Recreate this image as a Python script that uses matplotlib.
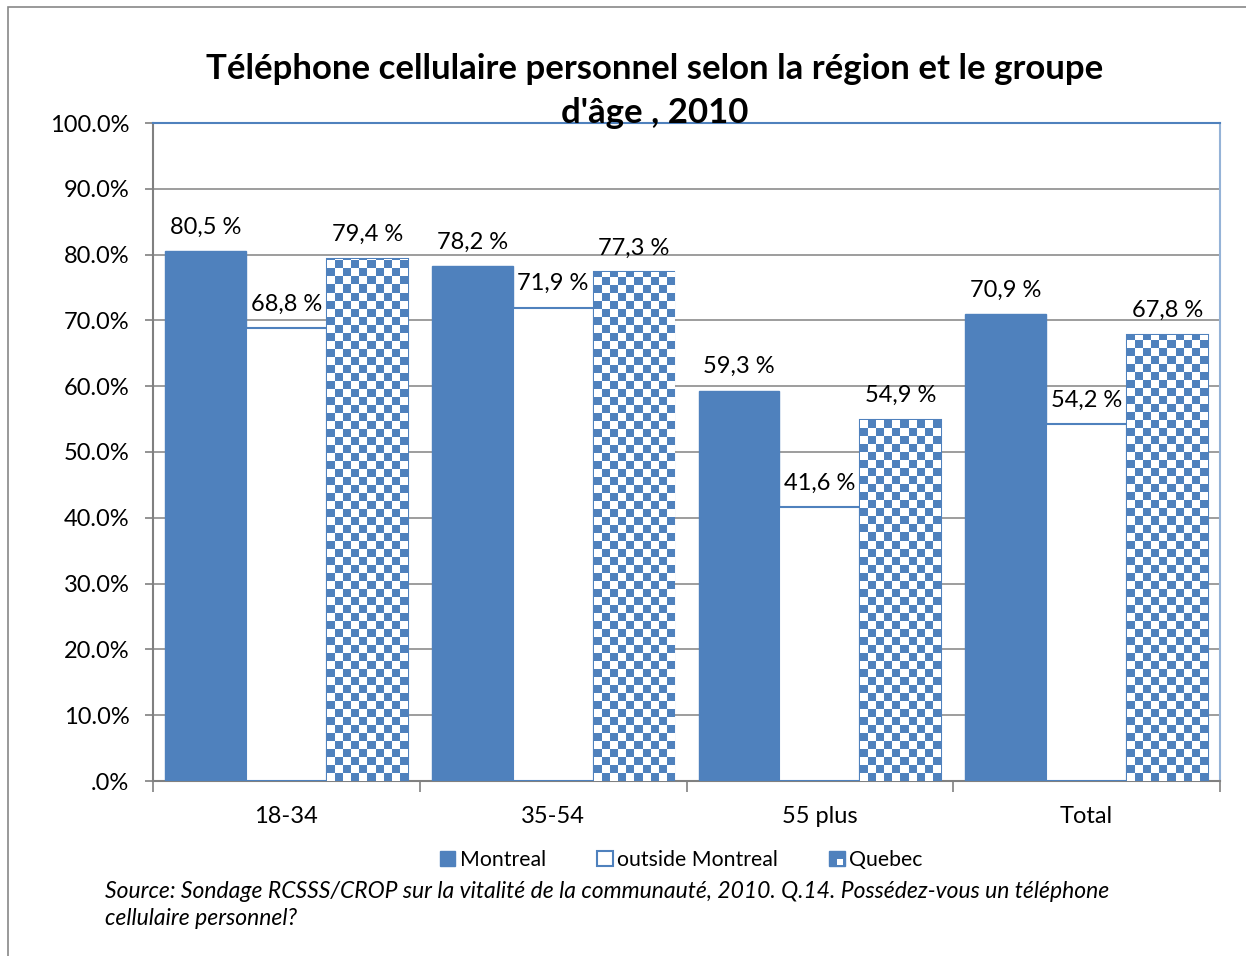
import numpy as np
import matplotlib
matplotlib.use("Agg")
import matplotlib.pyplot as plt
from matplotlib.patches import Rectangle, Patch
from matplotlib.legend_handler import HandlerBase

plt.rcParams["font.family"] = ["Lato", "DejaVu Sans"]

# data
groups = ["18-34", "35-54", "55 plus", "Total"]
montreal = [80.5, 78.2, 59.3, 70.9]
outside = [68.8, 71.9, 41.6, 54.2]
quebec = [79.4, 77.3, 54.9, 67.8]
series_names = ["Montreal", "outside Montreal", "Quebec"]
yticks = np.arange(0, 101, 10)
ytick_labels = [".0%"] + ["%.1f%%" % v for v in yticks[1:]]

title = "Téléphone cellulaire personnel selon la région et le groupe\nd'âge , 2010"
source = ("Source: Sondage RCSSS/CROP sur la vitalité de la communauté, 2010. Q.14. "
          "Possédez-vous un téléphone\ncellulaire personnel?")

BLUE = "#4F81BD"
W, H = 1246, 956

fig = plt.figure(figsize=(W / 100, H / 100), dpi=100)
ax = fig.add_axes([153 / W, 1 - 781 / H, (1220 - 153) / W, (781 - 123) / H])

# outer chart border
fig.patches.append(Rectangle((8 / W, -0.01), 1.02, 1 - 7 / H + 0.01, transform=fig.transFigure,
                             fill=False, edgecolor="#888888", linewidth=1.2, zorder=0))

x = np.arange(len(groups))
bw = 0.303

b1 = ax.bar(x - bw, montreal, bw, color=BLUE, edgecolor=BLUE, linewidth=1, zorder=3)
b2 = ax.bar(x, outside, bw, color="white", edgecolor=BLUE, linewidth=1.5, zorder=3)
b3 = ax.bar(x + bw, quebec, bw, color="white", edgecolor=BLUE, linewidth=1.5, zorder=3)

# checkerboard fill for Quebec bars
cell_h = 8 / 6.58
cmap = matplotlib.colors.ListedColormap(["white", BLUE])
for rect in b3:
    x0, w, h = rect.get_x(), rect.get_width(), rect.get_height()
    nr = int(np.ceil(h / cell_h))
    pat = (np.add.outer(np.arange(nr), np.arange(10)) % 2)
    im = ax.imshow(pat, cmap=cmap, extent=(x0, x0 + w, 0, nr * cell_h), origin="lower",
                   interpolation="nearest", aspect="auto", zorder=3.5)
    im.set_clip_path(rect)

for bars in (b1, b2, b3):
    for rect in bars:
        v = rect.get_height()
        ax.annotate(("%.1f %%" % v).replace(".", ","),
                    (rect.get_x() + rect.get_width() / 2, v),
                    xytext=(0, 10), textcoords="offset points",
                    ha="center", va="bottom", fontsize=17, zorder=5)

ax.set_xlim(-0.5, len(groups) - 0.5)
ax.set_ylim(0, 100)
ax.set_yticks(yticks)
ax.set_yticklabels(ytick_labels, fontsize=17)
ax.yaxis.grid(True, color="#8C8C8C", linewidth=1.2, zorder=0)
ax.set_axisbelow(True)

ax.set_xticks(np.arange(len(groups) + 1) - 0.5)
ax.set_xticklabels([])
ax.set_xticks(x, minor=True)
ax.set_xticklabels(groups, minor=True, fontsize=17)
ax.tick_params(axis="x", which="minor", length=0, pad=18)
ax.tick_params(axis="x", which="major", length=8, color="#808080", width=1.2)
ax.tick_params(axis="y", length=6, color="#808080", width=1.2, pad=11)

ax.spines["left"].set_color("#808080")
ax.spines["bottom"].set_color("#808080")
ax.spines["left"].set_linewidth(1.5)
ax.spines["bottom"].set_linewidth(1.5)
ax.spines["top"].set_color(BLUE)
ax.spines["top"].set_linewidth(1.5)
ax.spines["right"].set_color("#95B3D7")
ax.spines["right"].set_linewidth(1.5)

fig.text(655 / W, 1 - 91 / H, title, ha="center", va="center", fontsize=25,
         fontweight="bold", linespacing=1.45)


class CheckerHandler(HandlerBase):
    def create_artists(self, legend, orig_handle, xdescent, ydescent, width, height, fontsize, trans):
        s = height
        x0 = xdescent + width - s
        big = Rectangle((x0, -ydescent), s, s, facecolor=BLUE, edgecolor=BLUE, transform=trans)
        small = Rectangle((x0 + s * 0.5, -ydescent + s * 0.1), s * 0.4, s * 0.35,
                          facecolor="white", edgecolor="none", transform=trans)
        return [big, small]


handles = [Patch(facecolor=BLUE, edgecolor=BLUE),
           Patch(facecolor="white", edgecolor=BLUE, linewidth=1.5),
           Patch(facecolor="white", edgecolor=BLUE)]
leg = fig.legend(handles, series_names, loc="center", bbox_to_anchor=(681 / W, 1 - 860 / H),
                 ncol=3, frameon=False, fontsize=15.3, handlelength=0.75, handleheight=0.75,
                 handletextpad=0.2, columnspacing=2.4,
                 handler_map={handles[2]: CheckerHandler()})

fig.text(105 / W, 1 - 905 / H, source, ha="left", va="center", fontsize=16.5,
         style="italic", linespacing=1.4)

fig.savefig("out.png", dpi=100)
